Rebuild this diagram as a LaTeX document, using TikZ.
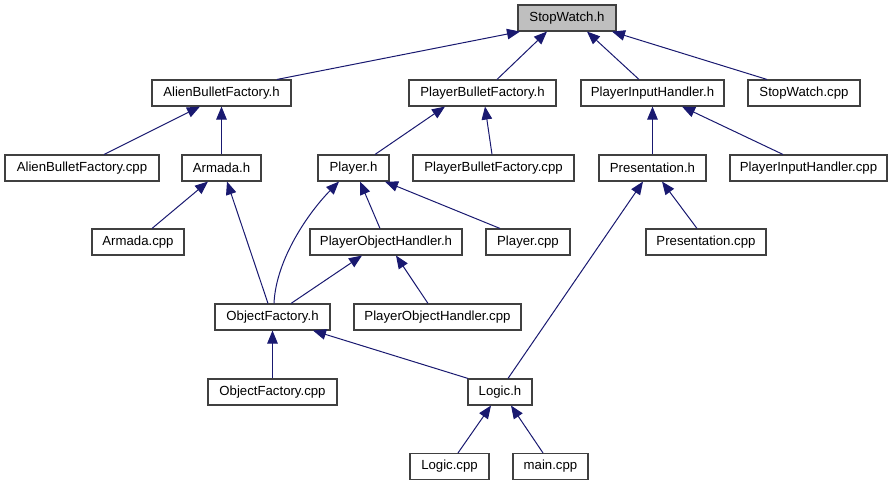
\documentclass[tikz,border=0pt]{standalone}
\usepackage{fontspec}
\setmainfont{Liberation Sans}
\usetikzlibrary{arrows.meta,calc}
\definecolor{edgeblue}{HTML}{191970}
\definecolor{boxline}{HTML}{404040}
\definecolor{hilite}{HTML}{BFBFBF}
\begin{document}
\begin{tikzpicture}[x=1pt,y=1pt,
  file/.style={draw=boxline,line width=1.1pt,fill=white,minimum height=26pt,inner sep=0pt,
    font=\fontsize{13.2}{15}\selectfont,text=black},
  dep/.style={draw=edgeblue,line width=1pt,-{Triangle[length=13pt,width=10.5pt]}}]
\useasboundingbox (0,0) rectangle (892,485);
% nodes
\node[file,fill=hilite,minimum width=98pt] (sw) at (567,467) {StopWatch.h};
\node[file,minimum width=139pt] (abfh) at (221.5,392) {AlienBulletFactory.h};
\node[file,minimum width=147pt] (pbfh) at (482.5,392) {PlayerBulletFactory.h};
\node[file,minimum width=143pt] (pihh) at (652.5,392) {PlayerInputHandler.h};
\node[file,minimum width=112pt] (swcpp) at (804,392) {StopWatch.cpp};
\node[file,minimum width=154pt] (abfcpp) at (82,317) {AlienBulletFactory.cpp};
\node[file,minimum width=79pt] (armh) at (221.5,317) {Armada.h};
\node[file,minimum width=71pt] (playerh) at (353.5,317) {Player.h};
\node[file,minimum width=161pt] (pbfcpp) at (493.5,317) {PlayerBulletFactory.cpp};
\node[file,minimum width=107pt] (presh) at (652.5,317) {Presentation.h};
\node[file,minimum width=157pt] (pihcpp) at (808.5,317) {PlayerInputHandler.cpp};
\node[file,minimum width=92pt] (armcpp) at (138,243) {Armada.cpp};
\node[file,minimum width=152pt] (pohh) at (386,243) {PlayerObjectHandler.h};
\node[file,minimum width=84pt] (playercpp) at (528,243) {Player.cpp};
\node[file,minimum width=120pt] (prescpp) at (706,243) {Presentation.cpp};
\node[file,minimum width=115pt] (ofh) at (272.5,168) {ObjectFactory.h};
\node[file,minimum width=167pt] (pohcpp) at (437.5,168) {PlayerObjectHandler.cpp};
\node[file,minimum width=129pt] (ofcpp) at (272.5,93) {ObjectFactory.cpp};
\node[file,minimum width=64pt] (logich) at (500,93) {Logic.h};
\node[file,minimum width=79pt] (logiccpp) at (449.5,18.5) {Logic.cpp};
\node[file,minimum width=75pt] (maincpp) at (550.5,18.5) {main.cpp};
% edges
\draw[dep] ([xshift=55.5pt]abfh.north) -- ([xshift=-47pt]sw.south);
\draw[dep] ([xshift=14.5pt]pbfh.north) -- ([xshift=-20pt]sw.south);
\draw[dep] ([xshift=-13.5pt]pihh.north) -- ([xshift=20pt]sw.south);
\draw[dep] ([xshift=-37pt]swcpp.north) -- ([xshift=45pt]sw.south);
\draw[dep] ([xshift=22pt]abfcpp.north) -- ([xshift=-21.5pt]abfh.south);
\draw[dep] (armh.north) -- (abfh.south);
\draw[dep] ([xshift=21.5pt]playerh.north) -- ([xshift=-37.5pt]pbfh.south);
\draw[dep] ([xshift=-1.5pt]pbfcpp.north) -- ([xshift=2.5pt]pbfh.south);
\draw[dep] (presh.north) -- (pihh.south);
\draw[dep] ([xshift=-25.5pt]pihcpp.north) -- ([xshift=29.5pt]pihh.south);
\draw[dep] ([xshift=14pt]armcpp.north) -- ([xshift=-13.5pt]armh.south);
\draw[dep] ([xshift=-4.5pt]ofh.north) -- ([xshift=5.5pt]armh.south);
\draw[dep] ([xshift=1.5pt]ofh.north) .. controls ($(ofh.north)+(3.5,45)$) and ($(playerh.south)+(-44,-30)$) .. ([xshift=-14.5pt]playerh.south);
\draw[dep] ([xshift=-6pt]pohh.north) -- ([xshift=6.5pt]playerh.south);
\draw[dep] ([xshift=-28pt]playercpp.north) -- ([xshift=31.5pt]playerh.south);
\draw[dep] ([xshift=18.5pt]ofh.north) -- ([xshift=-24pt]pohh.south);
\draw[dep] ([xshift=-9.5pt]pohcpp.north) -- ([xshift=10pt]pohh.south);
\draw[dep] ([xshift=8pt]logich.north) -- ([xshift=-9.5pt]presh.south);
\draw[dep] ([xshift=-9pt]prescpp.north) -- ([xshift=9.5pt]presh.south);
\draw[dep] (ofcpp.north) -- (ofh.south);
\draw[dep] ([xshift=-32pt]logich.north) -- ([xshift=40.5pt]ofh.south);
\draw[dep] ([xshift=8.5pt]logiccpp.north) -- ([xshift=-9pt]logich.south);
\draw[dep] ([xshift=-7.5pt]maincpp.north) -- ([xshift=11pt]logich.south);
\end{tikzpicture}
\end{document}
